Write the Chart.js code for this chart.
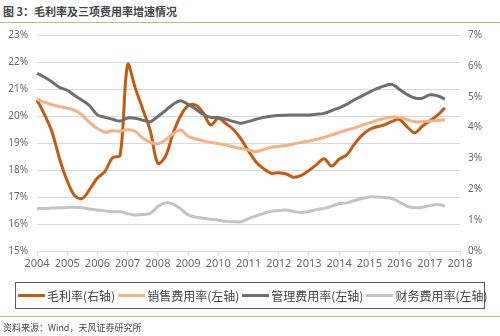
<!DOCTYPE html>
<html>
<head>
<meta charset="utf-8">
<script src="https://cdn.jsdelivr.net/npm/chart.js@4.4.0/dist/chart.umd.min.js"></script>
<style>
  html, body { margin: 0; padding: 0; background: #fff; }
  body { width: 500px; height: 336px; position: relative; overflow: hidden;
         font-family: "Noto Sans CJK SC", "Noto Sans", sans-serif; }
  #title { position: absolute; left: 3px; top: 3px; font-size: 11px; font-weight: bold; color: #444; }
  .rule { position: absolute; left: 0; width: 500px; height: 1px; background: #dcae7a; }
  #chartBox { position: absolute; left: 0; top: 0; width: 500px; height: 336px; }
  #legend { position: absolute; left: 15px; top: 282px; width: 468px; height: 25px;
            border: 1.5px solid #5a5a5a; display: flex; align-items: center; }
  .item { display: flex; align-items: center; font-size: 12px; color: #444; white-space: nowrap; margin-right: 1px; }
  .swatch { width: 27px; height: 3px; margin: 0 2px 0 2px; }
  #source { position: absolute; left: 3px; top: 321px; font-size: 9px; color: #444; }
</style>
</head>
<body>
<div id="title">图 3：毛利率及三项费用率增速情况</div>
<div class="rule" style="top:22px"></div>
<div id="chartBox"><canvas id="chart" width="500" height="336"></canvas></div>
<div id="legend"></div>
<div class="rule" style="top:316px"></div>
<div id="source">资料来源：Wind，天风证券研究所</div>
<script>
// quarterly points, 2004Q1 .. 2018Q1 (2018Q1 only marks the axis end)
const quarters = [
  '2004Q1','2004Q2','2004Q3','2004Q4','2005Q1','2005Q2','2005Q3','2005Q4',
  '2006Q1','2006Q2','2006Q3','2006Q4','2007Q1','2007Q2','2007Q3','2007Q4',
  '2008Q1','2008Q2','2008Q3','2008Q4','2009Q1','2009Q2','2009Q3','2009Q4',
  '2010Q1','2010Q2','2010Q3','2010Q4','2011Q1','2011Q2','2011Q3','2011Q4',
  '2012Q1','2012Q2','2012Q3','2012Q4','2013Q1','2013Q2','2013Q3','2013Q4',
  '2014Q1','2014Q2','2014Q3','2014Q4','2015Q1','2015Q2','2015Q3','2015Q4',
  '2016Q1','2016Q2','2016Q3','2016Q4','2017Q1','2017Q2','2017Q3','2017Q4',
  '2018Q1'
];

// 毛利率 (plotted against the 15%-23% axis)
const grossMargin = [
  20.6, 20.05, 19.4, 18.4, 17.6, 17.05, 16.95, 17.3,
  17.7, 17.95, 18.45, 18.55, 21.9, 21.05, 20.25, 19.45,
  18.25, 18.5, 19.35, 20.0, 20.38, 20.4, 20.12, 19.67,
  19.92, 19.72, 19.5, 19.15, 18.7, 18.3, 18.05, 17.88,
  17.9, 17.85, 17.73, 17.8, 17.98, 18.2, 18.42, 18.15,
  18.4, 18.56, 18.95, 19.28, 19.5, 19.6, 19.67, 19.8,
  19.87, 19.6, 19.38, 19.62, 19.82, 20.02, 20.3
];

// 销售费用率 (0%-7% axis)
const salesRate = [
  4.92, 4.82, 4.74, 4.68, 4.63, 4.56, 4.40, 4.15,
  3.97, 3.85, 3.9, 3.88, 3.93, 3.88, 3.66, 3.53,
  3.47, 3.6, 3.8, 3.92, 3.72, 3.63, 3.57, 3.52,
  3.48, 3.44, 3.37, 3.32, 3.27, 3.22, 3.29, 3.36,
  3.39, 3.42, 3.47, 3.52, 3.56, 3.62, 3.68, 3.76,
  3.84, 3.92, 3.99, 4.07, 4.15, 4.23, 4.3, 4.34,
  4.33, 4.26, 4.19, 4.19, 4.21, 4.23, 4.25
];

// 管理费用率
const adminRate = [
  5.76, 5.63, 5.48, 5.3, 5.21, 5.04, 4.88, 4.7,
  4.41, 4.33, 4.27, 4.21, 4.31, 4.3, 4.24, 4.19,
  4.36, 4.55, 4.75, 4.87, 4.75, 4.6, 4.43, 4.33,
  4.33, 4.27, 4.2, 4.14, 4.2, 4.27, 4.33, 4.37,
  4.39, 4.4, 4.41, 4.41, 4.41, 4.43, 4.46, 4.55,
  4.64, 4.75, 4.9, 5.02, 5.15, 5.26, 5.35, 5.4,
  5.23, 5.07, 4.96, 4.95, 5.06, 5.03, 4.92
];

// 财务费用率
const financeRate = [
  1.38, 1.38, 1.39, 1.4, 1.41, 1.42, 1.4, 1.36,
  1.33, 1.3, 1.27, 1.27, 1.21, 1.17, 1.18, 1.22,
  1.44, 1.56, 1.52, 1.37, 1.17, 1.1, 1.06, 1.03,
  1.0, 0.96, 0.95, 0.95, 1.05, 1.14, 1.22, 1.29,
  1.31, 1.33, 1.28, 1.25, 1.28, 1.34, 1.38, 1.45,
  1.53, 1.56, 1.63, 1.7, 1.75, 1.75, 1.73, 1.7,
  1.58, 1.45, 1.4, 1.42, 1.47, 1.51, 1.46
];

const seriesNames = ['毛利率(右轴)', '销售费用率(左轴)', '管理费用率(左轴)', '财务费用率(左轴)'];
const seriesColors = ['#c55a11', '#f4b183', '#6f6f6f', '#c4c4c4'];

const gridGray = '#d9d9d9';
const tickGray = '#6a6a6a';

function makeSet(i, data, axis) {
  return {
    label: seriesNames[i],
    data: data,
    yAxisID: axis,
    borderColor: seriesColors[i],
    backgroundColor: seriesColors[i],
    borderWidth: 3,
    pointRadius: 0,
    tension: 0.35,
    fill: false
  };
}

const chart = new Chart(document.getElementById('chart').getContext('2d'), {
  type: 'line',
  data: {
    labels: quarters,
    datasets: [
      makeSet(3, financeRate, 'yR'),
      makeSet(1, salesRate, 'yR'),
      makeSet(2, adminRate, 'yR'),
      makeSet(0, grossMargin, 'yL')
    ]
  },
  options: {
    responsive: false,
    animation: false,
    layout: { padding: { top: 35, bottom: 65, left: 0, right: 0 } },
    plugins: {
      legend: { display: false },
      tooltip: { enabled: false }
    },
    scales: {
      x: {
        offset: false,
        grid: {
          drawOnChartArea: false,
          drawTicks: true,
          tickLength: 4,
          color: ctx => (ctx.index % 4 === 0 ? gridGray : 'rgba(0,0,0,0)')
        },
        border: { display: true, color: gridGray },
        ticks: {
          autoSkip: false,
          maxRotation: 0,
          padding: 2,
          color: tickGray,
          font: { size: 11, family: 'Noto Sans, sans-serif' },
          callback: function (v, i) {
            return i % 4 === 0 ? quarters[i].slice(0, 4) : '';
          }
        },
        afterFit: s => { s.height = 20; }
      },
      yL: {
        position: 'left',
        min: 15,
        max: 23,
        ticks: {
          stepSize: 1,
          padding: 9,
          color: tickGray,
          font: { size: 10, family: 'Noto Sans, sans-serif' },
          callback: v => v + '%'
        },
        grid: { color: gridGray, drawTicks: false },
        border: { display: false },
        afterFit: s => { s.width = 37; }
      },
      yR: {
        position: 'right',
        min: 0,
        max: 7,
        ticks: {
          stepSize: 1,
          padding: 8,
          color: tickGray,
          font: { size: 10, family: 'Noto Sans, sans-serif' },
          callback: v => v + '%'
        },
        grid: { drawOnChartArea: false, drawTicks: false },
        border: { display: false },
        afterFit: s => { s.width = 40; }
      }
    }
  }
});

// legend in the original's order
const legend = document.getElementById('legend');
legend.innerHTML = seriesNames.map((name, i) => `
  <div class="item"><span class="swatch" style="background:${seriesColors[i]}"></span>${name}</div>
`).join('');
</script>
</body>
</html>
